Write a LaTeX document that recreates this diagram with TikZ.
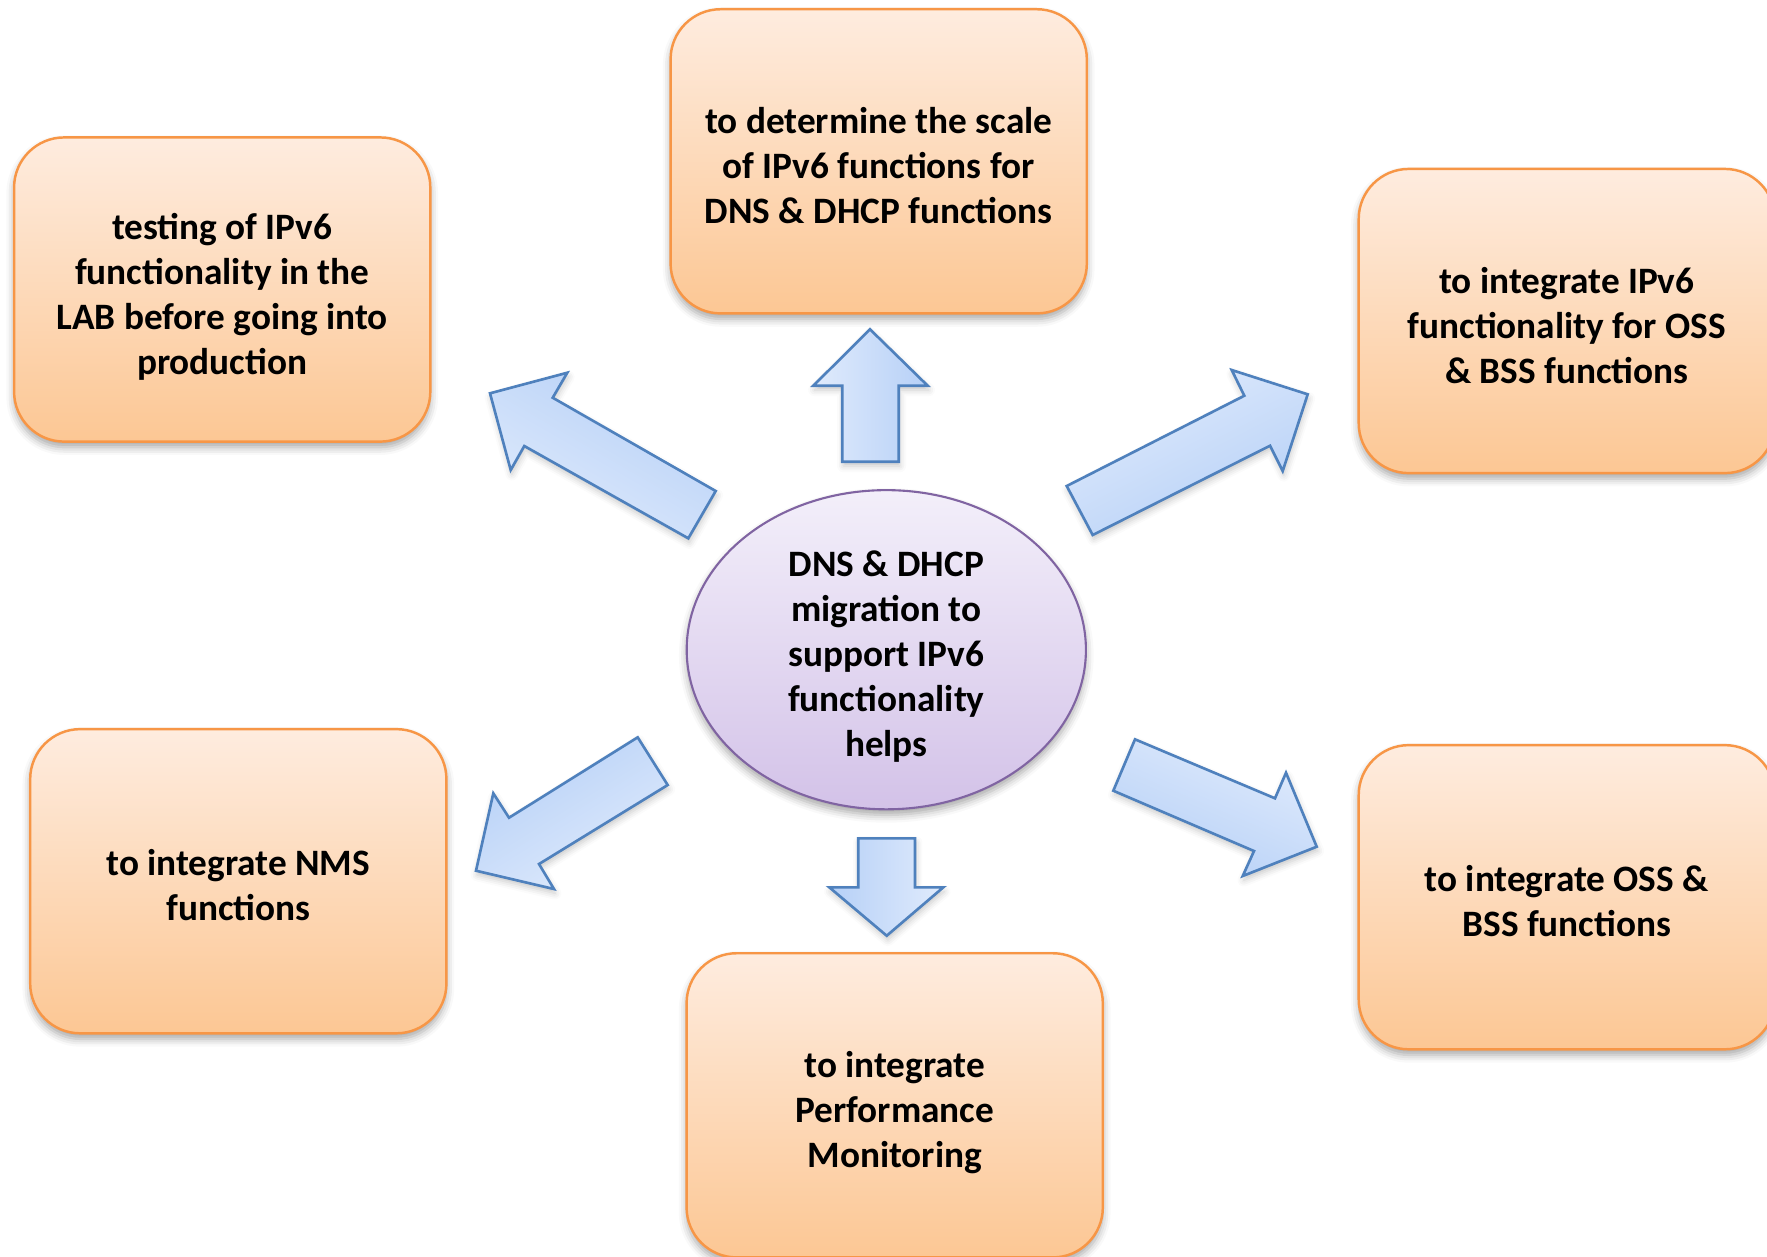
\documentclass[tikz,border=0pt]{standalone}
\usepackage{fontspec}
\setmainfont{Carlito}
\usetikzlibrary{shapes.geometric,shadows.blur}

\definecolor{boxline}{HTML}{F79646}
\definecolor{boxtop}{HTML}{FEECDF}
\definecolor{boxbot}{HTML}{FCC794}
\definecolor{hubline}{HTML}{8064A2}
\definecolor{hubtop}{HTML}{F3EFFA}
\definecolor{hubbot}{HTML}{D3C2E8}
\definecolor{arrline}{HTML}{4F81BD}
\definecolor{arrlight}{HTML}{E0EBFC}
\definecolor{arrdark}{HTML}{B6D0F7}

% centred block of lines, set a little below the shape's middle
% (the box keeps its natural height and depth, so only the ink moves)
\newcommand\boxlines[1]{\raisebox{-2.3pt}[\height][\depth]{\begin{tabular}{@{}c@{}}#1\end{tabular}}}

\tikzset{
  lbl/.style={font=\fontsize{10.6}{12.8}\selectfont\bfseries, text=black},
  softshadow/.style={blur shadow={shadow xshift=0pt, shadow yshift=-1.6pt,
      shadow blur radius=2.2pt, shadow opacity=35}},
  faintshadow/.style={blur shadow={shadow xshift=0.3pt, shadow yshift=-1.2pt,
      shadow blur radius=1.8pt, shadow opacity=22}},
  goalbox/.style={lbl, rectangle, rounded corners=0.5cm,
      minimum width=4.16cm, minimum height=3.04cm, inner sep=0pt,
      draw=boxline, line width=0.7pt,
      top color=boxtop, bottom color=boxbot, softshadow},
  hub/.style={lbl, ellipse, minimum width=3.99cm, minimum height=3.19cm, inner sep=0pt,
      draw=hubline, line width=0.6pt,
      top color=hubtop, bottom color=hubbot, softshadow},
  blockarrow/.style={draw=arrline, line width=0.75pt, line join=miter,
      top color=arrlight, bottom color=arrdark, faintshadow},
}

\begin{document}
\begin{tikzpicture}[x=0.01cm, y=-0.01cm]
  \useasboundingbox (0,0) rectangle (1767,1256);
  \clip (0,0) rectangle (1767,1256);

  % outcome boxes
  \node[goalbox] (lab)  at (222.2,289.5) {\boxlines{testing of IPv6\\functionality in the\\LAB before going into\\production}};
  \node[goalbox] (scale) at (878.7,161.3) {\boxlines{to determine the scale\\of IPv6 functions for\\DNS \& DHCP functions}};
  \node[goalbox] (ossipv6) at (1566.8,321) {\boxlines{to integrate IPv6\\functionality for OSS\\\& BSS functions}};
  \node[goalbox] (nms)  at (238.3,881.2) {\boxlines{to integrate NMS\\functions}};
  \node[goalbox] (perf) at (894.7,1105.3) {\boxlines{to integrate\\Performance\\Monitoring}};
  \node[goalbox] (oss)  at (1566.8,897.2) {\boxlines{to integrate OSS \&\\BSS functions}};

  % central topic
  \node[hub] (core) at (886.3,649.7) {\boxlines{DNS \& DHCP\\migration to\\support IPv6\\functionality\\helps}};

  % block arrows radiating from the centre
  \path[blockarrow, shading angle=90]
    (842.3,461.7) -- (842.3,385.7) -- (813.3,385.7) -- (870,329.3)
    -- (927.7,385.7) -- (898.7,385.7) -- (898.7,461.7) -- cycle;
  \path[blockarrow, shading angle=270]
    (858.3,838.3) -- (915,838.3) -- (915,887.3) -- (943.3,887.3)
    -- (886.7,935.7) -- (829.3,887.3) -- (858.3,887.3) -- cycle;
  \path[blockarrow, shading angle=150]
    (715.7,491) -- (552.7,397.7) -- (567.3,372.7) -- (490,393.3)
    -- (510.7,470) -- (524.3,446) -- (688.3,538.3) -- cycle;
  \path[blockarrow, shading angle=27]
    (1066.7,486) -- (1244.3,395.7) -- (1231.7,370) -- (1307.7,394.3)
    -- (1282.7,471) -- (1270,445.7) -- (1092.7,535) -- cycle;
  \path[blockarrow, shading angle=212]
    (637.7,737.3) -- (667.7,785) -- (539,864) -- (554,889)
    -- (476,870.7) -- (493.3,793.3) -- (509,817.7) -- cycle;
  \path[blockarrow, shading angle=-23]
    (1135,739.3) -- (1275,798.3) -- (1286,772.7) -- (1316.7,846.7)
    -- (1242.7,876) -- (1254,851) -- (1113.3,790.7) -- cycle;
\end{tikzpicture}
\end{document}
